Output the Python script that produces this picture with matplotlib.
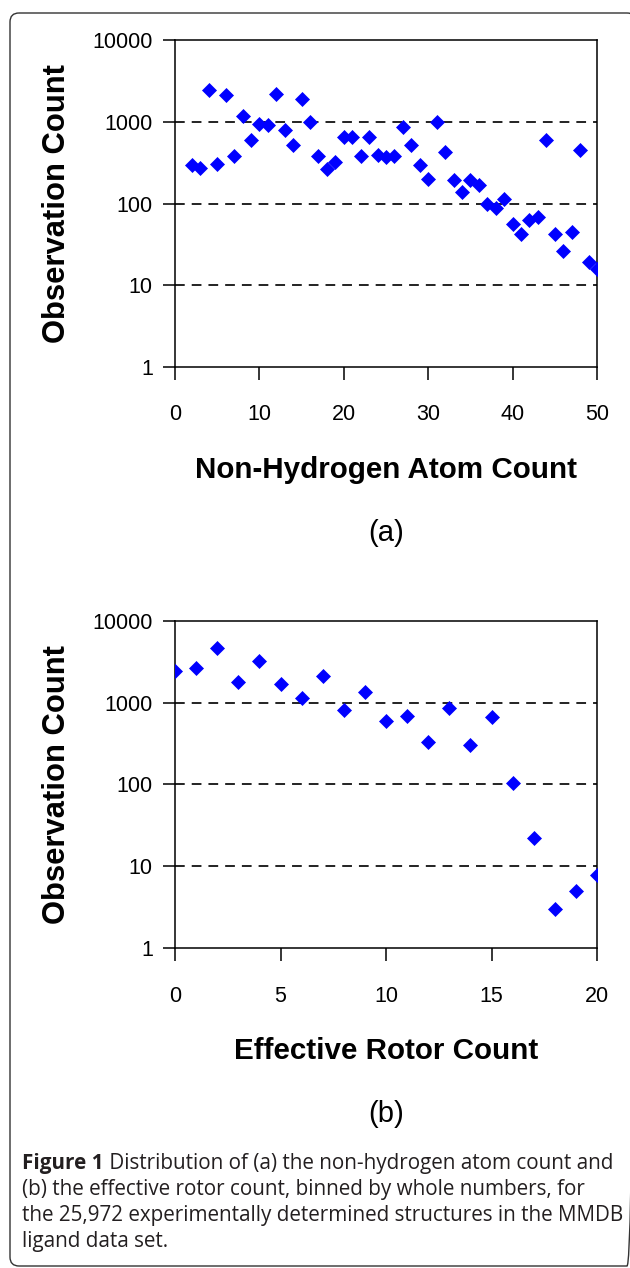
import matplotlib
matplotlib.use("Agg")
import matplotlib.pyplot as plt
from matplotlib.patches import FancyBboxPatch
from matplotlib.ticker import FixedLocator, FixedFormatter

# (a) non-hydrogen atom count
atom_count = [2, 3, 4, 5, 6, 7, 8, 9, 10, 11, 12, 13, 14, 15, 16, 17, 18, 19, 20,
              21, 22, 23, 24, 25, 26, 27, 28, 29, 30, 31, 32, 33, 34, 35, 36, 37,
              38, 39, 40, 41, 42, 43, 44, 45, 46, 47, 48, 49, 50]
atom_obs = [295, 270, 2450, 305, 2140, 380, 1180, 590, 940, 900, 2200, 795, 520,
            1900, 990, 380, 265, 318, 660, 660, 380, 660, 390, 370, 385, 870, 520,
            295, 200, 1000, 425, 195, 140, 195, 170, 100, 88, 115, 56, 42, 63, 68,
            590, 42, 26, 45, 445, 19, 16]

# (b) effective rotor count
rotor_count = [0, 1, 2, 3, 4, 5, 6, 7, 8, 9, 10, 11, 12, 13, 14, 15, 16, 17, 18, 19, 20]
rotor_obs = [2450, 2620, 4650, 1770, 3250, 1700, 1130, 2080, 800, 1360, 590, 680,
             333, 850, 305, 660, 104, 22, 3, 5, 7.8]

y_ticks = [1, 10, 100, 1000, 10000]
y_labels = ["1", "10", "100", "1000", "10000"]

W, H = 630, 1268
fig = plt.figure(figsize=(W / 100, H / 100), dpi=100)
font = "Liberation Sans"

# rounded frame around the whole figure
bg = fig.add_axes([0, 0, 1, 1], zorder=-10)
bg.set_xlim(0, W)
bg.set_ylim(H, 0)
bg.axis("off")
bg.add_patch(FancyBboxPatch((10, 13), 626, 1253, boxstyle="round,pad=0,rounding_size=9",
                            fill=False, ec="#333333", lw=1.0))


def fx(px):
    return px / W


def fy(px):
    return 1 - px / H


def panel(x, y, xmax, xticks, top, bottom, xlabel, tag):
    ax = fig.add_axes([fx(175), fy(bottom), fx(597) - fx(175), fy(top) - fy(bottom)])
    ax.set_yscale("log")
    ax.set_ylim(1, 10000)
    ax.set_xlim(0, xmax)
    for g in [10, 100, 1000]:
        ax.axhline(g, color="#222222", lw=1.4, ls=(0, (5, 3.6)), zorder=1)
    ax.plot(x, y, ls="none", marker="D", ms=7, color="#0000ff", mec="#0000ff",
            mew=0.5, zorder=3)
    ax.yaxis.set_major_locator(FixedLocator(y_ticks))
    ax.yaxis.set_major_formatter(FixedFormatter(y_labels))
    ax.yaxis.set_minor_locator(FixedLocator([]))
    ax.set_xticks(xticks)
    ax.tick_params(axis="both", direction="out", length=9, width=1.1, labelsize=15.5,
                   color="black")
    ax.tick_params(axis="y", pad=7)
    ax.tick_params(axis="x", pad=18)
    for lab in ax.get_xticklabels() + ax.get_yticklabels():
        lab.set_family(font)
    for s in ax.spines.values():
        s.set_linewidth(1.1)
    fig.text(fx(57), fy((top + bottom) / 2), "Observation Count", rotation=90,
             ha="center", va="center", fontsize=22.3, fontweight="bold", family=font)
    fig.text(fx(386), fy(bottom + 103), xlabel, ha="center", va="center",
             fontsize=21.3, fontweight="bold", family=font)
    fig.text(fx(386), fy(bottom + 166), tag, ha="center", va="center",
             fontsize=21, family=font)
    return ax


panel(atom_count, atom_obs, 50, [0, 10, 20, 30, 40, 50], 40, 367,
      "Non-Hydrogen Atom Count", "(a)")
panel(rotor_count, rotor_obs, 20, [0, 5, 10, 15, 20], 620.7, 948,
      "Effective Rotor Count", "(b)")

# caption
cap_font = "Open Sans"
cap_size = 14.9
cap_color = "#231f20"
t = fig.text(fx(22), fy(1163), "Figure 1", fontsize=cap_size, fontweight="bold",
             family=cap_font, color=cap_color, va="center")
bg.annotate(" Distribution of (a) the non-hydrogen atom count and", xy=(1, 0.5),
            xycoords=t, va="center", ha="left", fontsize=cap_size, family=cap_font,
            color=cap_color)
lines = ["(b) the effective rotor count, binned by whole numbers, for",
         "the 25,972 experimentally determined structures in the MMDB",
         "ligand data set."]
for i, line in enumerate(lines):
    fig.text(fx(22), fy(1189 + 26 * i), line, fontsize=cap_size, family=cap_font,
             color=cap_color, va="center")

fig.savefig("out.png", dpi=100)
